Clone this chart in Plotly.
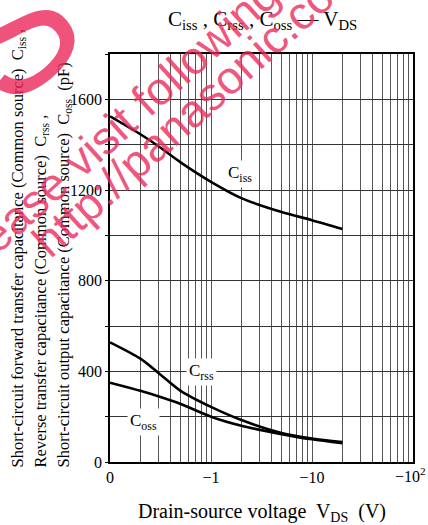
import math
import plotly.graph_objects as go

# data (|V_DS| in volts, capacitance in pF)
vds = [0.1, 0.2, 0.3, 0.5, 1, 2, 5, 10, 20]
ciss = [1525, 1446, 1394, 1322, 1236, 1164, 1103, 1067, 1028]
crss = [528, 456, 394, 314, 243, 185, 128, 104, 88]
coss = [350, 314, 290, 256, 200, 160, 123, 100, 83]

x_tickvals = [m * 10 ** e for e in (-1, 0, 1) for m in range(1, 10)] + [100]
x_ticktext = ["0" if v == 0.1 else "−1" if v == 1 else "−10" if v == 10 else ""
              for v in x_tickvals]
x_lastlabel = "−10<sup>2</sup>"   # drawn separately so it is not cut by the right edge
y_tickvals = list(range(0, 2000, 200))
y_ticktext = [str(v) if v % 400 == 0 and v <= 1600 else "" for v in y_tickvals]

SERIF = "Liberation Serif, Times New Roman, serif"
SANS = "Liberation Sans, Arial, sans-serif"

L, R, T, B = 110, 413, 54, 462  # plot-area edges in page pixels
W, H = 428, 525
def px2paper(px, py):
    return (px - L) / (R - L), (B - py) / (B - T)

fig = go.Figure()
for ys in (ciss, crss, coss):
    fig.add_trace(go.Scatter(x=vds, y=ys, mode="lines", line=dict(color="black", width=2.6, shape="spline", smoothing=0.8),
                             showlegend=False, hoverinfo="skip"))

fig.update_layout(
    template="none",
    width=W, height=H,
    margin=dict(l=L, r=W - R, t=T, b=H - B),
    paper_bgcolor="white", plot_bgcolor="white",
    font=dict(family=SERIF, color="black", size=16),
    xaxis=dict(type="log", range=[-1, 2], tickmode="array", tickvals=x_tickvals, ticktext=x_ticktext,
               showgrid=True, gridcolor="#555", gridwidth=1, showline=True, linecolor="black", linewidth=1.5,
               mirror=True, ticks="", zeroline=False, automargin=False, ticklabeloverflow="allow",
               tickfont=dict(size=16, family=SERIF, color="black")),
    yaxis=dict(range=[0, 1800], tickmode="array", tickvals=y_tickvals, ticktext=y_ticktext,
               showgrid=True, gridcolor="#333", gridwidth=1, showline=True, linecolor="black", linewidth=1.5,
               mirror=True, ticks="outside", ticklen=3, tickcolor="black", zeroline=False, automargin=False,
               tickfont=dict(size=16, family=SERIF, color="black")),
)

ann = []
# last x tick label
tx, ty = px2paper(427, 475)
ann.append(dict(x=tx, y=ty, xref="paper", yref="paper", showarrow=False, xanchor="right", yanchor="middle",
                text=x_lastlabel, font=dict(size=16, family=SERIF), borderpad=0))
# curve labels
for txt, xv, yv in (("C<sub>iss</sub>", 1.94, 1271), ("C<sub>rss</sub>", 0.80, 397), ("C<sub>oss</sub>", 0.217, 176)):
    ann.append(dict(x=math.log10(xv), y=yv, xref="x", yref="y", text=txt, showarrow=False,
                    xanchor="center", yanchor="middle",
                    bgcolor="white", font=dict(size=17, family=SERIF), borderpad=2))
# title
tx, ty = px2paper(262, 20)
ann.append(dict(x=tx, y=ty, xref="paper", yref="paper", showarrow=False, xanchor="center", yanchor="middle",
                text="C<sub>iss</sub> , C<sub>rss</sub> , C<sub>oss</sub> — V<sub>DS</sub>",
                font=dict(size=21, family=SERIF)))
# x-axis title
tx, ty = px2paper(262, 512)
ann.append(dict(x=tx, y=ty, xref="paper", yref="paper", showarrow=False, xanchor="center", yanchor="middle",
                text="Drain-source voltage  V<sub>DS</sub>  (V)", font=dict(size=20, family=SERIF)))
# y-axis title, three lines
ylines = [
    ("Short-circuit forward transfer capacitance (Common source)  C<sub>iss</sub> ,", 17),
    ("Reverse transfer capacitance (Common source)  C<sub>rss</sub> ,", 40),
    ("Short-circuit output capacitance (Common source)  C<sub>oss</sub>  (pF)", 63),
]
for txt, px in ylines:
    tx, ty = px2paper(px, 470)
    ann.append(dict(x=tx, y=ty, xref="paper", yref="paper", showarrow=False,
                    text=txt, textangle=-90, xanchor="center", yanchor="bottom",
                    font=dict(size=16.5, family=SERIF)))

# watermark
WM = "rgba(235,40,90,0.8)"
for txt, cx, cy, size in (("Please visit following", 113.6, 129.2, 46),
                          ("http://panasonic.co.jp", 201.5, 102.3, 46)):
    tx, ty = px2paper(cx, cy)
    ann.append(dict(x=tx, y=ty, xref="paper", yref="paper", showarrow=False,
                    xanchor="center", yanchor="middle",
                    text=txt, textangle=-42, font=dict(size=size, family=SANS, color=WM)))
tx, ty = px2paper(12, 32)
ann.append(dict(x=tx, y=ty, xref="paper", yref="paper", showarrow=False,
                xanchor="center", yanchor="middle",
                text="S", textangle=-40, font=dict(size=170, family=SANS, color=WM)))

fig.update_layout(annotations=ann)
fig.write_html("out.html", config={"displayModeBar": False},
               post_script="document.body.style.margin='0';document.body.style.overflow='hidden';")
